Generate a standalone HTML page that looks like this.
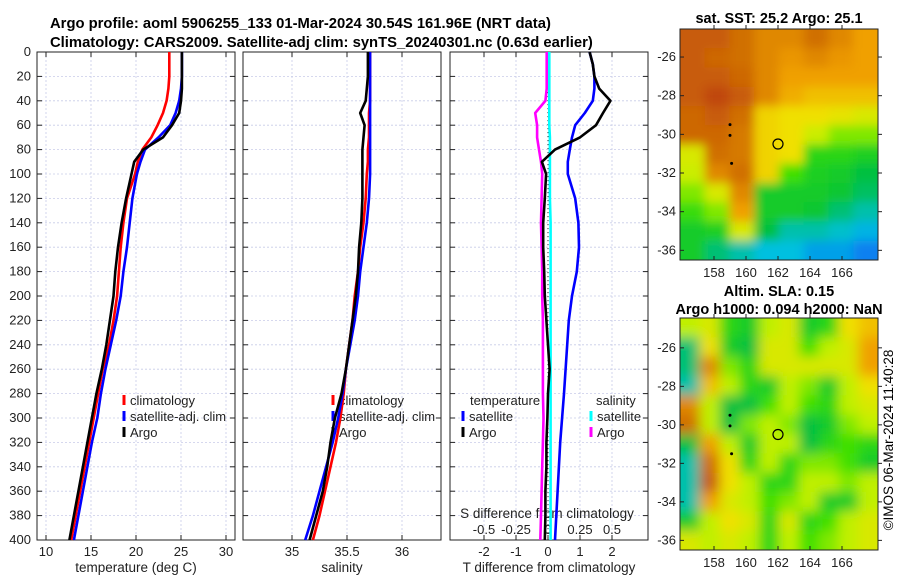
<!DOCTYPE html>
<html><head><meta charset="utf-8"><style>
body{margin:0;background:#fff;}
svg{display:block;font-family:"Liberation Sans",sans-serif;}
</style></head><body>
<svg id="fig" width="900" height="580" viewBox="0 0 900 580" xmlns="http://www.w3.org/2000/svg">
<defs>
<filter id="bl1" x="-5%" y="-5%" width="110%" height="110%"><feGaussianBlur stdDeviation="5"/></filter>
<filter id="bl2" x="-5%" y="-5%" width="110%" height="110%"><feGaussianBlur stdDeviation="6"/></filter>
<clipPath id="c1"><rect x="680" y="29" width="198" height="231"/></clipPath>
<clipPath id="c2"><rect x="680" y="318" width="198" height="232"/></clipPath>
</defs>
<text x="50" y="28" font-size="14.8" font-weight="bold">Argo profile: aoml 5906255_133 01-Mar-2024 30.54S 161.96E (NRT data)</text>
<text x="50" y="47" font-size="14.8" font-weight="bold">Climatology: CARS2009. Satellite-adj clim: synTS_20240301.nc (0.63d earlier)</text>
<text x="779" y="23" font-size="14.5" font-weight="bold" text-anchor="middle">sat. SST: 25.2 Argo: 25.1</text>
<text x="779" y="296" font-size="14.5" font-weight="bold" text-anchor="middle">Altim. SLA: 0.15</text>
<text x="779" y="314" font-size="14.5" font-weight="bold" text-anchor="middle">Argo h1000: 0.094 h2000: NaN</text>
<text transform="translate(893,440) rotate(-90)" font-size="13.5" text-anchor="middle">©IMOS 06-Mar-2024 11:40:28</text>
<g id="g"></g>
</svg>
<script>
const depths=[0,10,20,30,40,50,60,70,80,90,100,120,140,160,180,200,220,240,260,280,300,320,340,360,380,400];
const climT=[23.7,23.7,23.7,23.6,23.4,23.0,22.4,21.7,20.7,20.2,19.9,19.0,18.6,18.3,18.1,17.9,17.5,17.0,16.3,15.8,15.3,14.8,14.3,13.8,13.3,12.8];
const satT=[25.1,25.1,25.1,25.0,24.8,24.4,23.8,22.5,21.0,20.5,20.1,19.6,19.3,19.0,18.6,18.3,17.8,17.2,16.6,16.1,15.7,15.1,14.6,14.1,13.6,13.1];
const argoT=[25.1,25.1,25.1,25.1,25.0,24.8,24.0,23.0,20.8,19.8,19.5,18.9,18.4,18.0,17.7,17.5,17.1,16.7,16.2,15.6,15.1,14.6,14.1,13.6,13.1,12.6];
const climS=[35.71,35.71,35.71,35.71,35.71,35.70,35.70,35.70,35.69,35.69,35.68,35.67,35.65,35.62,35.60,35.57,35.55,35.52,35.49,35.47,35.44,35.40,35.35,35.30,35.25,35.19];
const satS=[35.71,35.71,35.71,35.71,35.71,35.71,35.71,35.71,35.71,35.71,35.71,35.70,35.68,35.65,35.62,35.60,35.57,35.53,35.49,35.46,35.42,35.37,35.31,35.25,35.19,35.12];
const argoS=[35.69,35.69,35.69,35.68,35.67,35.62,35.66,35.65,35.64,35.64,35.64,35.64,35.63,35.61,35.60,35.58,35.55,35.52,35.49,35.45,35.39,35.35,35.32,35.28,35.22,35.16];
const satDT=[1.3,1.4,1.45,1.45,1.4,1.15,0.85,0.75,0.68,0.62,0.62,0.85,0.95,0.97,0.9,0.75,0.65,0.6,0.55,0.5,0.44,0.38,0.34,0.3,0.26,0.22];
const argoDT=[1.3,1.4,1.45,1.6,1.95,1.72,1.5,1.0,0.22,-0.19,-0.06,-0.1,-0.15,-0.15,-0.12,-0.1,-0.05,0,0.05,0.0,-0.02,-0.05,-0.05,-0.08,-0.08,-0.1];
const satDS=[0.01,0.01,0.01,0.01,0.01,0.01,0.01,0.015,0.015,0.015,0.015,0.015,0.02,0.02,0.02,0.02,0.02,0.02,0.02,0.02,0.02,0.02,0.02,0.02,0.02,0.02];
const argoDS=[-0.01,-0.01,-0.01,-0.01,-0.02,-0.1,-0.085,-0.085,-0.07,-0.055,-0.045,-0.05,-0.055,-0.05,-0.045,-0.045,-0.04,-0.04,-0.04,-0.04,-0.035,-0.04,-0.045,-0.05,-0.055,-0.06];
const depthTicks=[0,20,40,60,80,100,120,140,160,180,200,220,240,260,280,300,320,340,360,380,400];
const tTicks=[10,15,20,25,30];
const sTicks=[35,35.5,36];
const dTTicks=[-2,-1,0,1,2];
const dSTicks=["-0.5","-0.25","0","0.25","0.5"];
const lonTicks=[158,160,162,164,166];
const latTicks=[-26,-28,-30,-32,-34,-36];
const sstGrid=[
[.95,.95,.9,.85,.85,.9,.85,.8],[.95,.92,.9,.85,.82,.85,.82,.8],[.95,.95,.92,.85,.8,.8,.8,.8],[.95,1,.95,.85,.78,.75,.75,.75],
[.92,.95,.9,.72,.7,.7,.68,.65],[.92,.92,.88,.72,.7,.62,.55,.55],[.65,.9,.88,.72,.7,.45,.45,.42],[.62,.85,.9,.72,.5,.42,.4,.35],
[.55,.65,.85,.4,.4,.4,.38,.32],[.48,.55,.8,.4,.4,.38,.3,.25],[.4,.42,.65,.35,.25,.25,.22,.18],[.4,.3,.25,.2,.2,.15,.15,.1]];
const slaGrid=[
[.6,.65,.45,.4,.6,.65,.4,.45,.7,.75],[.3,.7,.4,.35,.65,.65,.5,.6,.65,.8],[.3,.85,.55,.45,.65,.65,.65,.65,.65,.8],[.25,.75,.6,.45,.4,.6,.55,.4,.6,.7],
[.85,.6,.35,.35,.5,.6,.5,.45,.6,.65],[.9,.6,.35,.55,.6,.55,.35,.4,.55,.6],[.35,.8,.6,.4,.6,.6,.35,.45,.5,.45],[.25,.9,.7,.45,.6,.45,.55,.55,.5,.4],
[.25,.95,.7,.6,.45,.45,.6,.6,.55,.6],[.25,.8,.65,.6,.5,.55,.6,.4,.4,.6],[.4,.6,.7,.65,.45,.65,.45,.5,.6,.65],[.65,.6,.65,.6,.45,.6,.5,.55,.6,.65]];
const floatDots=[[159,-29.5],[159,-30.05],[159.1,-31.5]];
const argoPos=[162,-30.5];

const NS='http://www.w3.org/2000/svg';const G=document.getElementById('g');
function el(t,a,p){const e=document.createElementNS(NS,t);for(const k in a)e.setAttribute(k,a[k]);(p||G).appendChild(e);return e;}
const Y0=52,Y1=540;const y=d=>Y0+d/400*(Y1-Y0);
const xT=v=>37+(v-9)*9, xS=v=>292+(v-35)*110, xD=v=>548+v*32, xDS=v=>548+v*128;
const panels=[[37,235,'temperature-panel'],[243,441,'salinity-panel'],[450,648,'difference-panel']];
panels.forEach(([a,b,n],i)=>{
 const g=el('g',{});
 depthTicks.forEach(d=>{const l=el('line',{x1:a,x2:b,y1:y(d),y2:y(d),stroke:'#c8cce8','stroke-width':0.8,'stroke-dasharray':'2,2'},g);
  el('line',{x1:a,x2:a+5,y1:y(d),y2:y(d),stroke:'#222'},g);el('line',{x1:b-5,x2:b,y1:y(d),y2:y(d),stroke:'#222'},g);
  if(i===0){const t=el('text',{x:31,y:y(d)+4,'font-size':13,'text-anchor':'end',fill:'#222'},g);t.textContent=d;}});
 const xs=i===0?tTicks.map(xT):i===1?sTicks.map(xS):dTTicks.map(xD);
 const lbl=i===0?tTicks:i===1?sTicks:dTTicks;
 xs.forEach((x,j)=>{el('line',{x1:x,x2:x,y1:Y0,y2:Y1,stroke:'#c8cce8','stroke-width':0.8,'stroke-dasharray':'2,2'},g);
  el('line',{x1:x,x2:x,y1:Y1-5,y2:Y1,stroke:'#222'},g);el('line',{x1:x,x2:x,y1:Y0,y2:Y0+5,stroke:'#222'},g);
  const t=el('text',{x:x,y:556,'font-size':13,'text-anchor':'middle',fill:'#222'},g);t.textContent=lbl[j];});
 const r=el('rect',{x:a,y:Y0,width:b-a,height:Y1-Y0,fill:'none',stroke:'#222','stroke-width':1},g);
});
[['temperature (deg C)',136,'temperature-axis-title'],['salinity',342,'salinity-axis-title'],['T difference from climatology',549,'t-diff-axis-title']].forEach(([s,x,n])=>{const t=el('text',{x:x,y:572,'font-size':13.5,'text-anchor':'middle',fill:'#222'});t.textContent=s;});
let t=el('text',{x:547,y:518,'font-size':13.5,'text-anchor':'middle',fill:'#222'});t.textContent='S difference from climatology';
dSTicks.forEach(s=>{const tt=el('text',{x:xDS(parseFloat(s)),y:534,'font-size':13,'text-anchor':'middle',fill:'#222'});tt.textContent=s;});
function leg(x,yy,col,s,n){const m=el('line',{x1:x,x2:x,y1:yy-10,y2:yy,stroke:col,'stroke-width':3});
 if(s){const tx=el('text',{x:x+6,y:yy,'font-size':13,fill:'#222'});tx.textContent=s;}}
leg(124,405,'#f00','climatology','legend-climatology');leg(124,421,'#00f','satellite-adj. clim','legend-satellite');leg(124,437,'#000','Argo','legend-argo');
leg(333,405,'#f00','climatology','legend2-climatology');leg(333,421,'#00f','satellite-adj. clim','legend2-satellite');leg(333,437,'#000','Argo','legend2-argo');
t=el('text',{x:470,y:405,'font-size':13,fill:'#222'});t.textContent='temperature';
t=el('text',{x:596,y:405,'font-size':13,fill:'#222'});t.textContent='salinity';
leg(463,421,'#00f','satellite','legend3-t-satellite');leg(463,437,'#000','Argo','legend3-t-argo');
leg(591,421,'#0ff','satellite','legend3-s-satellite');leg(591,437,'#f0f','Argo','legend3-s-argo');
const zl=el('line',{x1:548,x2:548,y1:Y0,y2:Y1,stroke:'#333','stroke-width':1,'stroke-dasharray':'1,3'});
function line(vals,fx,col,n,w){const d=vals.map((v,i)=>(i?'L':'M')+fx(v).toFixed(1)+','+y(depths[i]).toFixed(1)).join('');const p=el('path',{d:d,fill:'none',stroke:col,'stroke-width':w||2.6,'stroke-linejoin':'round'});}
line(climT,xT,'#f00','climatology-temperature-line');line(satT,xT,'#00f','satellite-temperature-line');line(argoT,xT,'#000','argo-temperature-line');
line(climS,xS,'#f00','climatology-salinity-line');line(satS,xS,'#00f','satellite-salinity-line');line(argoS,xS,'#000','argo-salinity-line');
line(satDS,xDS,'#0ff','satellite-salinity-diff-line');line(argoDS,xDS,'#f0f','argo-salinity-diff-line');
line(satDT,xD,'#00f','satellite-temperature-diff-line');line(argoDT,xD,'#000','argo-temperature-diff-line');

const stops=[[0,[16,64,255]],[.2,[0,192,224]],[.35,[0,192,64]],[.5,[64,224,0]],[.6,[192,240,0]],[.7,[240,224,0]],[.8,[240,160,0]],[.9,[208,112,0]],[1,[192,70,16]]];
function cmap(v){for(let i=1;i<stops.length;i++){if(v<=stops[i][0]){const a=stops[i-1],b=stops[i],f=(v-a[0])/(b[0]-a[0]);return 'rgb('+a[1].map((c,k)=>Math.round(c+(b[1][k]-c)*f)).join(',')+')';}}return 'rgb(192,70,16)';}
function map(grid,top,bot,clip,filt,n,latTop,latBot){
 const g=el('g',{'clip-path':'url(#'+clip+')'});
 const inner=el('g',{filter:'url(#'+filt+')'},g);
 const rows=grid.length,cols=grid[0].length,w=198/cols,h=(bot-top)/rows;
 for(let r=-1;r<=rows;r++)for(let c=-1;c<=cols;c++){const rr=Math.max(0,Math.min(rows-1,r)),cc=Math.max(0,Math.min(cols-1,c));el('rect',{x:680+c*w,y:top+r*h,width:w+1,height:h+1,fill:cmap(grid[rr][cc])},inner);}
 const lx=v=>714+(v-158)*16, ly=v=>top+(latTop-v)/(latTop-latBot)*(bot-top);
 const b=el('rect',{x:680,y:top,width:198,height:bot-top,fill:'none',stroke:'#222'});
 lonTicks.forEach(v=>{el('line',{x1:lx(v),x2:lx(v),y1:bot-4,y2:bot,stroke:'#222'});el('line',{x1:lx(v),x2:lx(v),y1:top-4,y2:top,stroke:'#222'});const tx=el('text',{x:lx(v),y:bot+17,'font-size':13,'text-anchor':'middle',fill:'#222'});tx.textContent=v;});
 latTicks.forEach(v=>{el('line',{x1:680,x2:684,y1:ly(v),y2:ly(v),stroke:'#222'});el('line',{x1:878,x2:882,y1:ly(v),y2:ly(v),stroke:'#222'});const tx=el('text',{x:676,y:ly(v)+4,'font-size':13,'text-anchor':'end',fill:'#222'});tx.textContent=v;});
 floatDots.forEach(p=>{const d=el('circle',{cx:lx(p[0]),cy:ly(p[1]),r:1.5,fill:'#000'});});
 const c=el('circle',{cx:lx(argoPos[0]),cy:ly(argoPos[1]),r:5,fill:'none',stroke:'#000','stroke-width':1.2});
}
map(sstGrid,29,260,'c1','bl1','sst-map',-24.55,-36.5);
map(slaGrid,318,550,'c2','bl2','sla-map',-24.45,-36.5);
</script>
</body></html>
